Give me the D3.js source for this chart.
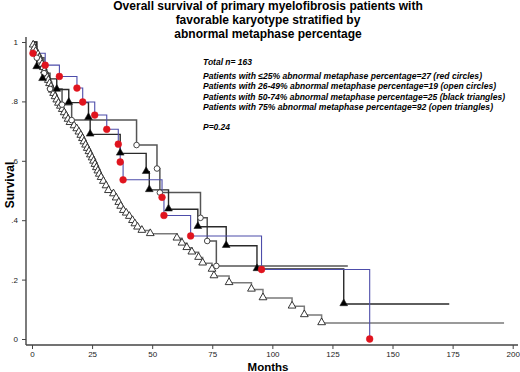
<!DOCTYPE html>
<html><head><meta charset="utf-8">
<script src="https://cdn.jsdelivr.net/npm/d3@7"></script>
<style>body{margin:0;background:#fff}svg{display:block;font-family:"Liberation Sans",Arial,sans-serif}</style>
</head><body><svg id="c" width="520" height="372"></svg>
<script>
const titleLines = ["Overall survival of primary myelofibrosis patients with","favorable karyotype stratified by","abnormal metaphase percentage"];
const annotLines = ["Total n= 163",
 "Patients with \u226425% abnormal metaphase percentage=27 (red circles)",
 "Patients with 26-49% abnormal metaphase percentage=19 (open circles)",
 "Patients with 50-74% abnormal metaphase percentage=25 (black triangles)",
 "Patients with 75% abnormal metaphase percentage=92 (open triangles)",
 "",
 "P=0.24"];
const xTicks = [0,25,50,75,100,125,150,175,200];
const yTicks = [0,0.2,0.4,0.6,0.8,1];
const yTickLabels = ["0",".2",".4",".6",".8","1"];
const xLabel = "Months", yLabel = "Survival";

// [months, survival] at each marked step
const openTriangles = [[0.5,.989],[1,.978],[1.5,.967],[2.5,.957],[3,.946],[3.5,.935],[4.2,.924],[4.7,.913],[5.2,.902],[5.8,.891],[6.3,.880],[6.8,.870],[7.3,.859],[7.9,.848],[8.4,.837],[9,.826],[9.6,.815],[10.3,.804],[11,.793],[11.8,.783],[12.6,.772],[13.4,.761],[14.2,.750],[15,.739],[15.8,.728],[17.5,.717],[18.6,.707],[19.5,.696],[20.3,.685],[21,.674],[21.6,.663],[22.3,.652],[23,.641],[23.7,.630],[24.3,.619],[25,.609],[25.6,.598],[26.2,.587],[26.8,.576],[27.4,.565],[28,.554],[28.75,.543],[29.7,.530],[30.8,.515],[31.8,.499],[33.9,.488],[35,.474],[36.1,.459],[36.9,.446],[38,.432],[39.2,.423],[40.5,.412],[41.8,.398],[42.8,.387],[43.9,.376],[45.7,.365],[49.2,.354],[60.3,.339],[62.4,.322],[64.4,.307],[66.5,.292],[69.3,.274],[71,.255],[74.9,.234],[75.7,.212],[82,.189],[91.3,.167],[96.1,.138],[108.2,.110],[113.3,.081],[120.5,.054]];
const openTrianglesEnd = 196.4;
const openCircles = [[2,.947],[5,.895],[7.5,.842],[12.5,.789],[16.5,.737],[43.5,.653],[52,.574],[53.2,.493],[70.1,.408],[72.9,.330],[76.7,.246]];
const openCirclesEnd = 131.4;
const blackTriangles = [[1.95,.916],[4.4,.876],[10.3,.840],[15.3,.796],[23.5,.745],[24.2,.689],[36.7,.625],[47.5,.563],[48.8,.502],[56.8,.437],[69,.378],[80.8,.314],[93.6,.236],[129.7,.118]];
const blackTrianglesEnd = 173.6;
const redCircles = [[0.4,.962],[5.5,.922],[11.4,.884],[18.7,.845],[21.1,.798],[26.1,.754],[31.1,.706],[35.9,.656],[36.7,.596],[37.9,.536],[54.1,.477],[54.9,.416],[66,.347],[95.5,.234],[140.5,0]];
const redCirclesEnd = 140.5;

const svg = d3.select("#c");
const x = d3.scaleLinear().domain([0,200]).range([32,512.7]);
const y = d3.scaleLinear().domain([0,1]).range([339,42]);

// title
svg.append("g").selectAll("text").data(titleLines).join("text")
  .attr("x",268).attr("y",(d,i)=>9.5+i*14).attr("text-anchor","middle")
  .attr("font-size",12).attr("font-weight","bold").attr("fill","#000").text(d=>d);

// axes
const axisColor="#444";
svg.append("line").attr("x1",26).attr("x2",26).attr("y1",y(1)-5).attr("y2",345).attr("stroke",axisColor).attr("stroke-width",1.4);
svg.append("line").attr("x1",26).attr("x2",518).attr("y1",345).attr("y2",345).attr("stroke",axisColor).attr("stroke-width",1.4);
const ya = svg.append("g").attr("transform","translate(26,0)")
  .call(d3.axisLeft(y).tickValues(yTicks).tickFormat((d,i)=>yTickLabels[i]).tickSize(4).tickPadding(4));
const xa = svg.append("g").attr("transform","translate(0,345)")
  .call(d3.axisBottom(x).tickValues(xTicks).tickSize(4).tickPadding(2));
[ya,xa].forEach(a=>{a.select(".domain").remove();a.selectAll("line").attr("stroke",axisColor);
  a.selectAll("text").attr("font-size",8).attr("fill","#222").attr("font-family","Liberation Sans, Arial, sans-serif");});

svg.append("text").attr("x",268).attr("y",371).attr("text-anchor","middle").attr("font-size",11.5).attr("font-weight","bold").text(xLabel);
svg.append("text").attr("transform","translate(14,185) rotate(-90)").attr("text-anchor","middle").attr("font-size",12).attr("font-weight","bold").text(yLabel);

// annotation
const annY=[61.5,75.5,86,96.5,107,0,126.5];
const annW=[0,279,293,302,290,0,27];
const ann = svg.append("g").selectAll("text").data(annotLines).join("text")
  .filter(d=>d!=="")
  .attr("x",203).attr("y",d=>annY[annotLines.indexOf(d)]+3)
  .attr("font-size",8.5).attr("font-weight","bold").attr("font-style","italic")
  .text(d=>d);
ann.filter(d=>annW[annotLines.indexOf(d)]>0)
  .attr("textLength",d=>annW[annotLines.indexOf(d)]).attr("lengthAdjust","spacingAndGlyphs");

function stepPath(pts,end){
  let p = `M${x(0)},${y(1)}`;
  pts.forEach(([t,s])=>{p+=`H${x(t)}V${y(s)}`;});
  p+=`H${x(end)}`;
  return p;
}
const groups=[
  {pts:openTriangles,end:openTrianglesEnd,line:"#7a7a7a",w:1.5,mark:"tri",fill:"#fff"},
  {pts:openCircles,end:openCirclesEnd,line:"#555",w:1.5,mark:"circ",fill:"#fff"},
  {pts:blackTriangles,end:blackTrianglesEnd,line:"#2a2a2a",w:1.4,mark:"tri",fill:"#000"},
  {pts:redCircles,end:redCirclesEnd,line:"#4d4daa",w:1.1,mark:"circ",fill:"#e0141e"}
];
groups.forEach(g=>{
  svg.append("path").attr("d",stepPath(g.pts,g.end)).attr("fill","none").attr("stroke",g.line).attr("stroke-width",g.w);
});
const triSym=d3.symbol().type(d3.symbolTriangle).size(26);
groups.forEach(g=>{
  const m=svg.append("g").selectAll("path.m").data(g.pts).join(g.mark==="tri"?"path":"circle");
  if(g.mark==="tri"){
    m.attr("d",triSym).attr("transform",d=>`translate(${x(d[0])},${y(d[1])-0.5})`)
     .attr("fill",g.fill).attr("stroke","#222").attr("stroke-width",g.fill==="#000"?0.6:0.9);
  } else {
    m.attr("cx",d=>x(d[0])).attr("cy",d=>y(d[1]))
     .attr("r",g.fill==="#fff"?2.8:3.4)
     .attr("fill",g.fill).attr("stroke",g.fill==="#fff"?"#333":"#e0141e").attr("stroke-width",g.fill==="#fff"?0.9:0.5);
  }
});
</script></body></html>
